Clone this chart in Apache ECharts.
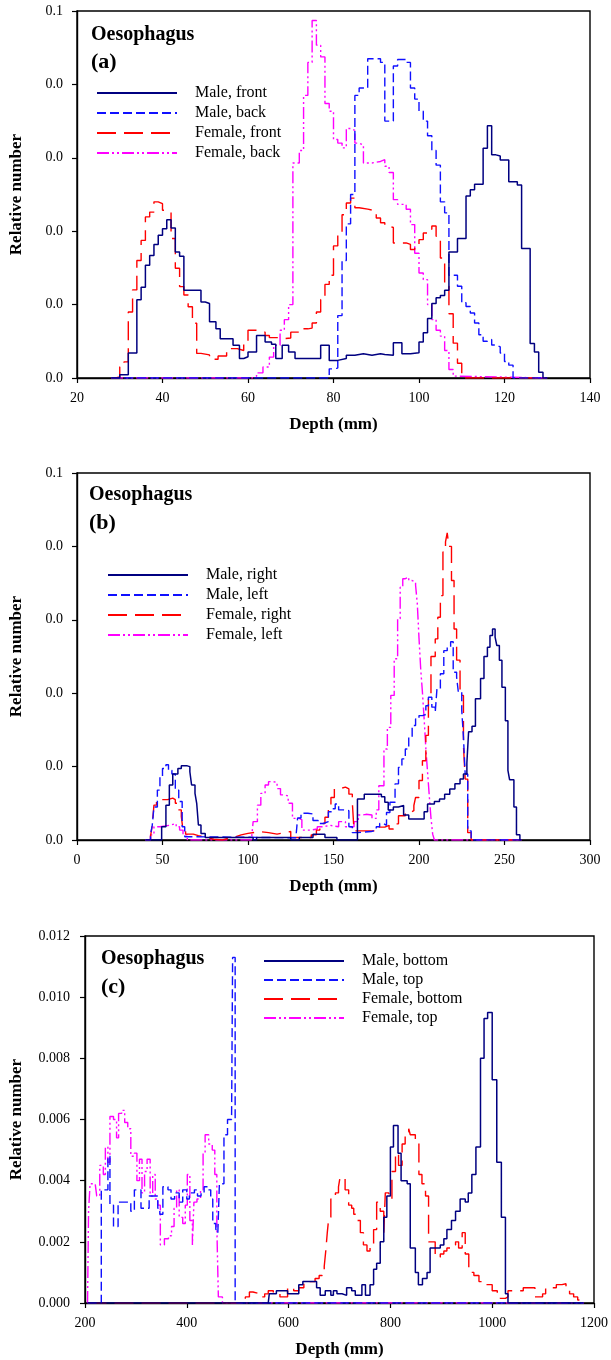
<!DOCTYPE html>
<html>
<head>
<meta charset="utf-8">
<script src="https://cdn.jsdelivr.net/npm/echarts@6/dist/echarts.min.js"></script>
<style>
html,body{margin:0;padding:0;background:#fff;}
#chart{width:611px;height:1360px;}
</style>
</head>
<body>
<div id="chart"></div>
<script>
// ---------- tick labels ----------
const aXTicks = [20, 40, 60, 80, 100, 120, 140];
const bXTicks = [0, 50, 100, 150, 200, 250, 300];
const cXTicks = [200, 400, 600, 800, 1000, 1200];
const abYTicks = ['0.0', '0.0', '0.0', '0.0', '0.0', '0.1'];
const abYStep = 0.02;
const cYTicks = ['0.000', '0.002', '0.004', '0.006', '0.008', '0.010', '0.012'];
const cYStep = 0.002;

// ---------- legend names ----------
const aNames = ['Male, front', 'Male, back', 'Female, front', 'Female, back'];
const bNames = ['Male, right', 'Male, left', 'Female, right', 'Female, left'];
const cNames = ['Male, bottom', 'Male, top', 'Female, bottom', 'Female, top'];
const panelLabels = ['(a)', '(b)', '(c)'];
const organ = 'Oesophagus';
const xTitle = 'Depth (mm)';
const yTitle = 'Relative number';

// ---------- panel (a) data: [depth, relative number] ----------
const aMaleFront = [[28,0],[30,0.0009],[32,0.0068],[34,0.0213],[35,0.0247],[36,0.0307],[37,0.0334],[38,0.0364],[39,0.0389],[40,0.0407],[41,0.0431],[42,0.0409],[43,0.0343],[44,0.0332],[45,0.0239],[49,0.0207],[50,0.0203],[51,0.0153],[52.5,0.0134],[53.5,0.0107],[56.5,0.0089],[58,0.0053],[59,0.0058],[60,0.0071],[62,0.0116],[64,0.0098],[65.5,0.0092],[66.5,0.0053],[68,0.0089],[69.5,0.0071],[71,0.0053],[77,0.0089],[79,0.0048],[81,0.0053],[83,0.0062],[85,0.0066],[87,0.0062],[89,0.0066],[91,0.0064],[92,0.0062],[94,0.0096],[96,0.0066],[98,0.0069],[100,0.0098],[101,0.0123],[102,0.0162],[103,0.0203],[104,0.0219],[105,0.0225],[106,0.0239],[107,0.0343],[109,0.038],[111,0.0496],[112,0.0513],[113,0.0528],[115,0.0626],[116,0.0687],[117,0.0608],[118,0.0605],[119,0.0594],[121,0.0535],[123,0.0526],[124,0.0353],[126,0.0094],[127,0.0071],[128,0.0016],[129,0],[130,0]];
const aMaleBack = [[28,0],[79,0.0025],[80,0.0027],[81,0.017],[82,0.032],[83,0.042],[84,0.05],[85,0.077],[86,0.079],[88,0.087],[91,0.086],[92,0.07],[94,0.085],[95,0.0868],[97,0.086],[98,0.079],[99,0.076],[100,0.0727],[101,0.07],[102,0.066],[103,0.062],[104,0.058],[105,0.048],[106,0.045],[107,0.028],[109,0.025],[110,0.0205],[111,0.0195],[112,0.0177],[113,0.015],[114,0.0118],[115,0.01],[116,0.0105],[117,0.009],[118,0.0085],[119,0.0068],[120,0.0045],[121,0.0035],[122,0],[130,0]];
const aFemaleFront = [[28,0],[29,0.0003],[30,0.003],[31,0.0044],[32,0.018],[33,0.024],[34,0.032],[35,0.0375],[36,0.0439],[37,0.0452],[38,0.048],[39,0.0475],[40,0.0457],[41,0.0453],[42,0.038],[43,0.0299],[44,0.0249],[45,0.0226],[46,0.0194],[47,0.0149],[48,0.0067],[49,0.0063],[51,0.0051],[53,0.006],[55,0.007],[56,0.008],[57.5,0.0075],[59,0.0098],[60,0.013],[62,0.0125],[64,0.0116],[65,0.011],[67,0.0107],[68,0.0109],[70,0.0125],[72,0.0134],[74,0.0136],[75,0.015],[76,0.018],[77,0.0214],[78,0.0255],[79,0.028],[80,0.036],[81,0.0395],[82,0.0445],[83,0.0477],[84,0.049],[85,0.0464],[86,0.046],[88,0.0455],[90,0.0436],[91,0.0423],[92,0.0414],[93,0.041],[94,0.0368],[97,0.0364],[98,0.035],[99,0.0364],[100,0.0377],[101,0.0395],[102,0.0405],[103,0.0414],[104,0.0386],[105,0.0327],[106,0.025],[107,0.0175],[108,0.0095],[109,0.004],[110,0],[130,0]];
const aFemaleBack = [[28,0],[61,0.0005],[62,0.0014],[63.5,0.003],[65,0.0057],[66,0.0089],[67.5,0.013],[68.5,0.0159],[69.5,0.02],[70.5,0.0586],[72,0.062],[73,0.077],[74,0.086],[75,0.0974],[76,0.0907],[77,0.0875],[78,0.0748],[79,0.0727],[80,0.065],[81,0.064],[82,0.0627],[83,0.068],[84,0.0675],[85,0.064],[86,0.0635],[87,0.0586],[89,0.059],[91,0.0595],[92,0.0577],[93,0.056],[94,0.0486],[95,0.0473],[97,0.046],[98,0.0418],[99,0.034],[100,0.0286],[101,0.0268],[102,0.02],[103,0.0159],[104,0.013],[105,0.0114],[106,0.0075],[107,0.0023],[108,0.0005],[109,0],[130,0]];

// ---------- panel (b) data ----------
const bMaleRight = [[40,0],[49.5,0.0036],[52,0.0095],[54,0.015],[56,0.018],[59,0.0195],[61,0.0202],[64.5,0.02],[66,0.0186],[67,0.015],[69,0.0127],[70,0.01],[71,0.0041],[72.5,0.0018],[75,0.0007],[103,0],[105,0.0007],[125,0],[130,0.0007],[138,0.0016],[145,0.0007],[152,0],[164,0.0112],[168,0.0125],[175,0.0125],[178,0.0118],[180,0.0103],[182,0.0082],[185,0.009],[188,0.0094],[191,0.0068],[194,0.0057],[200,0.0057],[203,0.0077],[205,0.0098],[209,0.0105],[212,0.0112],[215,0.0125],[218,0.0139],[221,0.0153],[224,0.0166],[226,0.018],[228,0.021],[229,0.0295],[231,0.031],[233,0.0385],[236,0.044],[238,0.05],[240,0.0525],[241.5,0.0557],[243,0.0575],[244.5,0.0553],[245.5,0.053],[247,0.049],[248.5,0.0416],[250.5,0.0325],[252,0.019],[253,0.0164],[255.5,0.009],[257,0.0014],[259,0],[260,0]];
const bMaleLeft = [[40,0],[43,0.0015],[44,0.004],[45,0.009],[47,0.0136],[48.5,0.0173],[50,0.0195],[52,0.0205],[53.5,0.019],[55.5,0.018],[57.5,0.0136],[59.5,0.0105],[61.5,0.0036],[63,0.0009],[65,0.0006],[128,0.0006],[129,0.006],[131,0.0073],[135,0.0071],[138,0.0053],[141,0.0045],[144,0.005],[147,0.0077],[149,0.0085],[151,0.0098],[153,0.0082],[156,0.008],[159,0.0036],[161,0.002],[164,0.0023],[172,0.0027],[175,0.0036],[177,0.0045],[179,0.004],[181,0.0075],[183,0.0103],[186,0.0153],[188,0.0198],[190,0.0221],[192,0.0248],[194,0.028],[196,0.0312],[198,0.033],[200,0.0339],[202,0.0342],[204,0.0366],[205.5,0.0389],[207.5,0.0362],[209.5,0.0348],[210.5,0.0412],[212.5,0.0453],[214.5,0.0516],[216.5,0.0525],[218.5,0.054],[220,0.0457],[222,0.0444],[223,0.0403],[225,0.0353],[226,0.028],[227,0.018],[228.5,0.0025],[230.5,0],[260,0]];
const bFemaleRight = [[40,0],[43,0.001],[44,0.004],[45,0.0095],[46.5,0.011],[53,0.0114],[56,0.011],[57.5,0.01],[59,0.0082],[61,0.0064],[62,0.0027],[63.5,0.0016],[68,0.0012],[71,0.0007],[76,0.0002],[80,0],[85,0.0005],[89,0.0009],[93,0.0014],[96,0.0018],[100,0.0023],[107,0.002],[112,0.0016],[117,0.002],[121,0.0023],[125,0.0007],[137,0.0014],[140,0.0027],[142,0.0045],[145,0.0062],[147,0.0082],[148.5,0.0116],[150.5,0.0139],[153,0.0144],[157,0.0139],[159,0.0125],[161,0.0103],[162,0.0025],[176,0.0035],[180,0.004],[182.5,0.003],[185,0.0044],[188,0.0066],[192,0.0075],[195,0.008],[197,0.0094],[198,0.0116],[200,0.0162],[202,0.0216],[204,0.0285],[205.5,0.0385],[207,0.05],[209.5,0.0548],[211,0.0607],[212.5,0.0666],[214,0.0785],[215.5,0.0812],[216.5,0.0837],[217.5,0.08],[219,0.0707],[220.5,0.0575],[222,0.049],[224,0.0394],[226,0.0257],[227,0.0166],[228.5,0.002],[230.5,0],[260,0]];
const bFemaleLeft = [[40,0],[43,0.0014],[45,0.0036],[48.5,0.004],[54,0.0045],[58,0.0036],[60,0.0027],[62,0.0014],[64.5,0],[102,0],[103,0.005],[105.5,0.0095],[107.5,0.0127],[110,0.015],[112,0.0159],[114.5,0.0157],[117,0.014],[119,0.0123],[121,0.012],[123.5,0.01],[126,0.0059],[130,0.0055],[131.5,0.0027],[137,0.003],[140.5,0.0036],[144,0.004],[148,0.0036],[153,0.005],[157,0.0036],[162,0.005],[164.5,0.0068],[167,0.007],[169,0.0068],[172.5,0.0059],[175,0.0082],[176.5,0.0148],[179.5,0.0248],[181.5,0.0307],[183.5,0.0394],[185.5,0.0494],[187.5,0.0603],[189,0.0689],[190.5,0.0712],[192,0.0716],[194,0.0707],[196,0.0703],[198,0.0694],[199,0.0644],[200,0.055],[201,0.0466],[202,0.0403],[203,0.033],[204,0.025],[205,0.0185],[206,0.0121],[207,0.006],[208,0.0016],[209,0],[260,0]];

// ---------- panel (c) data ----------
const cMaleBottom = [[205,0],[560,0],[562,0.0003],[576,0.0004],[598,0.0003],[620,0.0006],[628,0.0007],[645,0.0007],[655,0.0005],[662,0.00025],[672,0.0004],[683,0.00025],[688,0.0004],[695,0.0003],[705,0.00025],[714,0.0005],[724,0.0004],[731,0.00025],[744,0.0006],[751,0.00025],[760,0.0006],[767,0.0011],[773,0.0013],[780,0.002],[787,0.0028],[793,0.0035],[800,0.0051],[806,0.0058],[815,0.0049],[821,0.004],[833,0.0039],[839,0.0018],[849,0.001],[855,0.0006],[863,0.0008],[872,0.001],[878,0.0018],[888,0.0018],[898,0.0019],[905,0.0021],[911,0.0024],[920,0.0027],[928,0.003],[937,0.0034],[947,0.0033],[953,0.0036],[960,0.0042],[968,0.0051],[977,0.008],[984,0.0093],[991,0.0095],[1000,0.0073],[1009,0.0046],[1018,0.0028],[1026,0.0003],[1031,0],[1180,0]];
const cMaleTop = [[205,0],[232,0.0037],[245,0.0048],[249,0.0032],[256,0.0025],[265,0.0033],[290,0.003],[297,0.0037],[310,0.0031],[326,0.0035],[343,0.0031],[347,0.0029],[353,0.0038],[363,0.0037],[369,0.0034],[376,0.0036],[385,0.0033],[392,0.0037],[400,0.0034],[405,0.0036],[415,0.0037],[421,0.0035],[428,0.0036],[434,0.0038],[441,0.0037],[447,0.0034],[451,0.0026],[457,0.0024],[461,0.0023],[464,0.0039],[473,0.0055],[480,0.006],[488,0.0061],[490,0.0113],[495,0],[1180,0]];
const cFemaleBottom = [[205,0],[500,0],[510,0.0001],[515,0.0002],[523,0.00036],[530,0.0003],[545,0.0002],[553,0.0003],[560,0.0004],[570,0.0003],[583,0.0002],[598,0.0005],[610,0.0004],[620,0.0005],[630,0.0007],[642,0.0007],[652,0.0008],[660,0.0009],[666,0.001],[670,0.0012],[673,0.0017],[676,0.0023],[679,0.0028],[683,0.0034],[688,0.0035],[692,0.0036],[698,0.0038],[701,0.0041],[711,0.0037],[718,0.0032],[724,0.0031],[728,0.0029],[734,0.0027],[741,0.0023],[747,0.0019],[754,0.0017],[760,0.0019],[767,0.0024],[773,0.0033],[780,0.003],[787,0.0023],[790,0.0036],[797,0.0034],[803,0.0043],[810,0.0049],[816,0.0045],[823,0.0052],[829,0.0056],[836,0.0057],[839,0.0055],[849,0.0053],[856,0.0042],[862,0.0039],[869,0.0035],[875,0.002],[882,0.002],[888,0.0015],[898,0.0016],[905,0.0017],[911,0.0018],[918,0.0019],[928,0.002],[934,0.0018],[941,0.0023],[947,0.0016],[954,0.001],[964,0.0009],[974,0.0007],[987,0.0006],[1000,0.0004],[1010,0.00025],[1016,0.00015],[1026,0.0002],[1031,0.0004],[1061,0.0005],[1084,0.0002],[1099,0.0003],[1105,0.0005],[1126,0.0006],[1137,0.00063],[1145,0.0005],[1152,0.0003],[1160,0.0002],[1168,0.0001],[1175,0],[1180,0]];
const cFemaleTop = [[205,0],[207,0.003],[210,0.0039],[220,0.0039],[223,0.0035],[229,0.0045],[236,0.0042],[240,0.0051],[245,0.0046],[249,0.0061],[256,0.006],[262,0.0054],[266,0.0062],[272,0.0063],[278,0.0059],[284,0.0057],[290,0.0048],[297,0.0049],[302,0.004],[307,0.0047],[312,0.0036],[317,0.0043],[322,0.0047],[328,0.0035],[333,0.0042],[338,0.0034],[343,0.0032],[348,0.0019],[356,0.0021],[364,0.0022],[370,0.0025],[375,0.0031],[380,0.0037],[385,0.0028],[392,0.0026],[397,0.0032],[401,0.0042],[406,0.0027],[411,0.0019],[414,0.0033],[420,0.0034],[427,0.0037],[432,0.0049],[436,0.0055],[443,0.0052],[450,0.005],[455,0.0042],[459,0.0025],[462,0.0002],[470,0],[1180,0]];

// ---------- styles ----------
const FONT = '"Liberation Serif", "Times New Roman", serif';
const styles = [
  {color: '#000080', type: 'solid', width: 1.5},
  {color: '#1010ff', type: [9, 4], width: 1.4},
  {color: '#ff0000', type: [19, 8], width: 1.4},
  {color: '#ff00ff', type: [12, 3, 2, 3, 2, 3], width: 1.4}
];

const grids = [
  {left: 73, top: 11, width: 517, height: 367},
  {left: 73, top: 473, width: 517, height: 367},
  {left: 80, top: 936, width: 517, height: 367}
];

function xAxisFor(i, ticks) {
  return {
    type: 'value', gridIndex: i,
    min: ticks[0], max: ticks[ticks.length - 1], interval: ticks[1] - ticks[0],
    name: xTitle, nameLocation: 'middle', nameGap: 38,
    nameTextStyle: {fontFamily: FONT, fontWeight: 'bold', fontSize: 17, color: '#000'},
    axisLine: {onZero: false, lineStyle: {color: '#000', width: 1.4}},
    axisTick: {show: true, inside: false, length: 5, lineStyle: {color: '#000', width: 1.2}},
    axisLabel: {fontFamily: FONT, fontSize: 14, color: '#000', margin: 13,
      formatter: v => String(ticks[Math.round((v - ticks[0]) / (ticks[1] - ticks[0]))])},
    splitLine: {show: false}
  };
}
function yAxisFor(i, labels, step, gap, margin) {
  return {
    type: 'value', gridIndex: i,
    min: 0, max: step * (labels.length - 1), interval: step,
    name: yTitle, nameLocation: 'middle', nameGap: gap, nameRotate: 90,
    nameTextStyle: {fontFamily: FONT, fontWeight: 'bold', fontSize: 17, color: '#000'},
    axisLine: {onZero: false, lineStyle: {color: '#000', width: 1.4}},
    axisTick: {show: true, inside: false, length: 5, lineStyle: {color: '#000', width: 1.2}},
    axisLabel: {fontFamily: FONT, fontSize: 14, color: '#000', margin: margin,
      formatter: v => labels[Math.round(v / step)]},
    splitLine: {show: false}
  };
}

const panels = [
  {names: aNames, data: [aMaleFront, aMaleBack, aFemaleFront, aFemaleBack]},
  {names: bNames, data: [bMaleRight, bMaleLeft, bFemaleRight, bFemaleLeft]},
  {names: cNames, data: [cMaleBottom, cMaleTop, cFemaleBottom, cFemaleTop]}
];

const series = [];
panels.forEach((p, gi) => {
  p.data.forEach((d, k) => {
    series.push({
      type: 'line', name: p.names[k], xAxisIndex: gi, yAxisIndex: gi,
      data: d, step: 'end', symbol: 'none', showSymbol: false,
      lineStyle: Object.assign({}, styles[k]),
      itemStyle: {color: styles[k].color},
      z: 2 + (3 - k)
    });
  });
});

const legendPos = [
  {left: 96, top: 85, gap: 4},
  {left: 107, top: 567, gap: 4},
  {left: 263, top: 953, gap: 3}
];
const legends = panels.map((p, gi) => ({
  data: p.names, orient: 'vertical', left: legendPos[gi].left, top: legendPos[gi].top,
  padding: 0,
  itemWidth: 80, itemHeight: 14, itemGap: legendPos[gi].gap, selectedMode: false,
  itemStyle: {opacity: 0, borderWidth: 0},
  textStyle: {fontFamily: FONT, fontSize: 16, color: '#000', padding: [0, 0, 0, 13]}
}));

const annot = [
  {x: 91, y1: 35, y2: 62},
  {x: 89, y1: 495, y2: 523},
  {x: 101, y1: 959, y2: 987}
];
const graphic = [];
annot.forEach((a, i) => {
  graphic.push({type: 'text', x: a.x, y: a.y1, style: {text: organ, font: 'bold 20px ' + FONT, fill: '#000', verticalAlign: 'middle'}});
  graphic.push({type: 'text', x: a.x, y: a.y2, style: {text: panelLabels[i], font: 'bold 22px ' + FONT, fill: '#000', verticalAlign: 'middle'}});
});

const chart = echarts.init(document.getElementById('chart'));
chart.setOption({
  animation: false,
  backgroundColor: '#fff',
  grid: grids.map(g => Object.assign({show: true, borderColor: '#000', borderWidth: 1.4, backgroundColor: 'transparent'}, g)),
  xAxis: [xAxisFor(0, aXTicks), xAxisFor(1, bXTicks), xAxisFor(2, cXTicks)],
  yAxis: [yAxisFor(0, abYTicks, abYStep, 52, 14), yAxisFor(1, abYTicks, abYStep, 52, 14), yAxisFor(2, cYTicks, cYStep, 60, 15)],
  legend: legends,
  series: series,
  graphic: graphic
});
</script>
</body>
</html>
